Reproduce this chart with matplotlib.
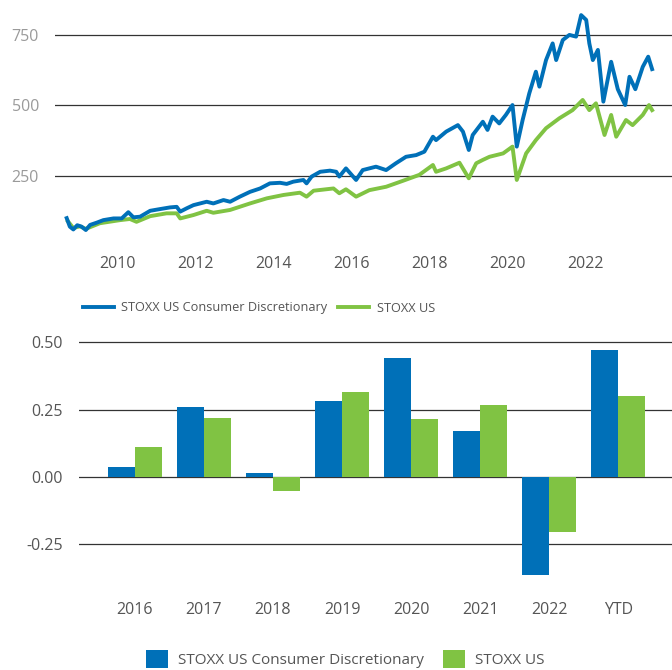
import matplotlib
matplotlib.use('Agg')
import matplotlib.pyplot as plt
import numpy as np

plt.rcParams['font.family'] = ['Open Sans', 'DejaVu Sans']

BLUE = '#0070b8'
GREEN = '#80c343'

# index levels (decimal years)
cd_years = [2008.71, 2008.79, 2008.88, 2008.98, 2009.09, 2009.20, 2009.31, 2009.48, 2009.65, 2009.91,
            2010.12, 2010.29, 2010.42, 2010.59, 2010.85, 2011.10, 2011.36, 2011.53, 2011.62, 2011.79,
            2011.96, 2012.30, 2012.47, 2012.73, 2012.90, 2013.15, 2013.41, 2013.67, 2013.92, 2014.18,
            2014.35, 2014.52, 2014.78, 2014.86, 2014.99, 2015.21, 2015.46, 2015.62, 2015.70, 2015.87,
            2016.13, 2016.30, 2016.64, 2016.90, 2017.15, 2017.41, 2017.67, 2017.88, 2018.10, 2018.18,
            2018.44, 2018.74, 2018.87, 2019.02, 2019.12, 2019.38, 2019.50, 2019.63, 2019.80, 2019.97,
            2020.14, 2020.25, 2020.40, 2020.57, 2020.74, 2020.83, 2021.00, 2021.17, 2021.26, 2021.43,
            2021.60, 2021.77, 2021.90, 2022.03, 2022.11, 2022.20, 2022.33, 2022.47, 2022.67, 2022.84,
            2023.03, 2023.14, 2023.29, 2023.48, 2023.62, 2023.72]
cd_values = [101, 71, 61, 76, 71, 59, 77, 85, 94, 100,
             100, 122, 104, 106, 127, 133, 139, 141, 124, 136,
             147, 159, 153, 165, 159, 177, 194, 206, 224, 226,
             222, 230, 236, 224, 248, 265, 269, 265, 248, 277,
             236, 271, 283, 271, 295, 318, 324, 336, 389, 377,
             407, 430, 407, 342, 395, 442, 413, 460, 436, 466,
             501, 354, 448, 542, 619, 566, 660, 719, 660, 731,
             749, 743, 819, 802, 719, 660, 696, 513, 654, 557,
             501, 601, 557, 636, 672, 628]

us_years = [2008.74, 2008.88, 2009.05, 2009.20, 2009.56, 2010.08, 2010.33, 2010.50, 2010.85, 2011.27,
            2011.53, 2011.62, 2011.96, 2012.30, 2012.47, 2012.90, 2013.41, 2013.84, 2014.27, 2014.69,
            2014.86, 2015.04, 2015.55, 2015.70, 2015.87, 2016.13, 2016.47, 2016.90, 2017.33, 2017.75,
            2018.10, 2018.18, 2018.44, 2018.78, 2019.02, 2019.21, 2019.38, 2019.55, 2019.90, 2020.14,
            2020.25, 2020.49, 2020.74, 2021.00, 2021.34, 2021.68, 2021.94, 2022.11, 2022.28, 2022.50,
            2022.67, 2022.80, 2023.05, 2023.22, 2023.48, 2023.64, 2023.72]
us_values = [90, 66, 72, 63, 83, 94, 98, 88, 108, 118,
             118, 100, 112, 127, 120, 130, 153, 171, 183, 191,
             177, 198, 206, 189, 203, 177, 200, 212, 233, 254,
             289, 265, 277, 297, 242, 295, 307, 318, 330, 354,
             236, 330, 377, 419, 454, 483, 519, 483, 507, 395,
             466, 389, 448, 430, 466, 501, 483]

# yearly returns
bar_labels = ['2016', '2017', '2018', '2019', '2020', '2021', '2022', 'YTD']
cd_returns = [0.035, 0.26, 0.015, 0.28, 0.44, 0.17, -0.367, 0.472]
us_returns = [0.112, 0.22, -0.052, 0.317, 0.213, 0.265, -0.204, 0.301]

fig = plt.figure(figsize=(6.72, 6.70), dpi=100)

# ---- line chart
ax1 = fig.add_axes([55/672, 1 - 246.7/670, 617/672, 246/670])
ax1.plot(cd_years, cd_values, color=BLUE, lw=2.8, label='STOXX US Consumer Discretionary', zorder=3)
ax1.plot(us_years, us_values, color=GREEN, lw=2.8, label='STOXX US', zorder=2)
ax1.set_xlim(2008.41, 2024.23)
ax1.set_ylim(0, 870)
ax1.set_yticks([250, 500, 750])
ax1.set_xticks(range(2010, 2023, 2))
ax1.grid(axis='y', color='#333333', lw=0.9)
ax1.set_axisbelow(True)
for s in ax1.spines.values():
    s.set_visible(False)
ax1.tick_params(length=0, labelsize=11.5)
ax1.tick_params(axis='y', pad=11.5, labelcolor='#9a9a9a')
ax1.tick_params(axis='x', pad=7, labelcolor='#555555')

fig.legend(*ax1.get_legend_handles_labels(), loc='center', bbox_to_anchor=(259/672, 1 - 308/670),
           ncol=2, frameon=False, fontsize=9.2, labelcolor='#555555',
           handlelength=2.4, handletextpad=0.6, columnspacing=0.85)

# ---- bar chart
ax2 = fig.add_axes([79/672, 1 - 589.6/670, 593/672, 260.7/670])
x = np.arange(len(bar_labels))
w = 0.39
ax2.bar(x - w/2, cd_returns, w, color=BLUE, label='STOXX US Consumer Discretionary')
ax2.bar(x + w/2, us_returns, w, color=GREEN, label='STOXX US')
ax2.set_xlim(-0.81, 7.78)
ax2.set_ylim(-0.42, 0.55)
ax2.set_xticks(x)
ax2.set_xticklabels(bar_labels)
ax2.set_yticks([-0.25, 0, 0.25, 0.5])
ax2.set_yticklabels(['-0.25', '0.00', '0.25', '0.50'])
ax2.grid(axis='y', color='#333333', lw=0.9)
ax2.set_axisbelow(True)
for s in ax2.spines.values():
    s.set_visible(False)
ax2.tick_params(length=0, labelsize=11.5, labelcolor='#555555')
ax2.tick_params(axis='y', pad=11.5)
ax2.tick_params(axis='x', pad=9)

fig.legend(*ax2.get_legend_handles_labels(), loc='center', bbox_to_anchor=(345/672, 1 - 659/670),
           ncol=2, frameon=False, fontsize=11, labelcolor='#555555',
           handlelength=1.45, handleheight=1.45, handletextpad=0.65, columnspacing=1.25)

fig.savefig('out.png', dpi=100)
